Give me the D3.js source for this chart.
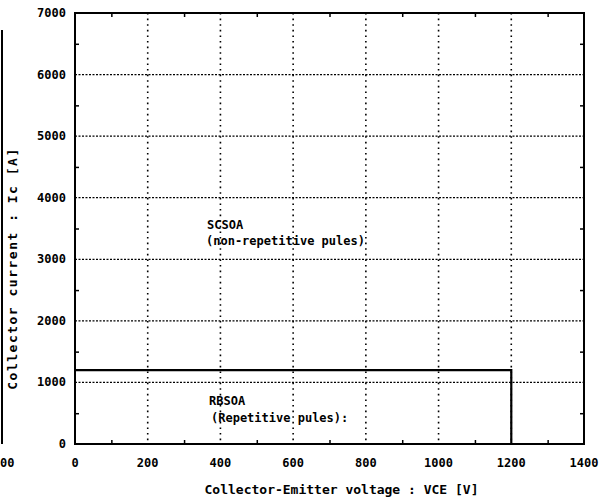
<!DOCTYPE html>
<html>
<head>
<meta charset="utf-8">
<script src="https://cdn.jsdelivr.net/npm/d3@7"></script>
<style>
  body { margin: 0; background: #fff; }
  text { font-family: "DejaVu Sans Mono", monospace; font-weight: bold; fill: #000; }
</style>
</head>
<body>
<svg width="610" height="500"></svg>
<script>
    const margin = { top: 13, right: 26, bottom: 56, left: 75 },
      width = 610 - margin.left - margin.right,
      height = 500 - margin.top - margin.bottom;

    // Axis ticks
    const xTicks = [0, 200, 400, 600, 800, 1000, 1200, 1400];
    const yTicks = [0, 1000, 2000, 3000, 4000, 5000, 6000, 7000];
    const xMinor = [100, 300, 500, 700, 900, 1100, 1300];
    const yMinor = [500, 1500, 2500, 3500, 4500, 5500, 6500];

    // RBSOA boundary (VCE [V], Ic [A])
    const rbsoaV = [0, 1200, 1200];
    const rbsoaI = [1200, 1200, 0];

    const svg = d3.select("svg")
      .append("g")
      .attr("transform", `translate(${margin.left}, ${margin.top})`);

    const xScale = d3.scaleLinear().domain([0, 1400]).range([0, width]);
    const yScale = d3.scaleLinear().domain([0, 7000]).range([height, 0]);

    // Dotted grid
    svg.append("g")
      .selectAll("line")
      .data(xTicks.slice(1, -1))
      .enter().append("line")
      .attr("x1", d => xScale(d)).attr("x2", d => xScale(d))
      .attr("y1", 0).attr("y2", height)
      .attr("stroke", "#000").attr("stroke-width", 1.6)
      .attr("stroke-dasharray", "1.6,4");
    svg.append("g")
      .selectAll("line")
      .data(yTicks.slice(1, -1))
      .enter().append("line")
      .attr("x1", 0).attr("x2", width)
      .attr("y1", d => yScale(d)).attr("y2", d => yScale(d))
      .attr("stroke", "#000").attr("stroke-width", 1.2)
      .attr("stroke-dasharray", "2,1.5");

    // Minor inward ticks
    const xAxisB = d3.axisBottom(xScale).tickValues(xMinor).tickSize(-4).tickFormat("");
    const xAxisT = d3.axisTop(xScale).tickValues(xMinor).tickSize(-4).tickFormat("");
    const yAxisL = d3.axisLeft(yScale).tickValues(yMinor).tickSize(-4).tickFormat("");
    const yAxisR = d3.axisRight(yScale).tickValues(yMinor).tickSize(-4).tickFormat("");
    [[xAxisB, `translate(0,${height})`], [xAxisT, "translate(0,0)"],
     [yAxisL, "translate(0,0)"], [yAxisR, `translate(${width},0)`]].forEach(([ax, tr]) => {
      const g = svg.append("g").attr("transform", tr).call(ax);
      g.select(".domain").remove();
      g.selectAll("line").attr("stroke", "#000").attr("stroke-width", 1.5);
    });

    // Frame
    svg.append("rect")
      .attr("width", width).attr("height", height)
      .attr("fill", "none").attr("stroke", "#000").attr("stroke-width", 2);

    // Tick labels
    svg.append("g")
      .selectAll("text")
      .data(xTicks)
      .enter().append("text")
      .attr("x", d => xScale(d))
      .attr("y", height + 23)
      .attr("text-anchor", "middle")
      .attr("font-size", 12)
      .text(d => d);
    svg.append("g")
      .selectAll("text")
      .data(yTicks)
      .enter().append("text")
      .attr("x", -9)
      .attr("y", d => yScale(d) + 4)
      .attr("text-anchor", "end")
      .attr("font-size", 12)
      .text(d => d);

    // RBSOA line
    const line = d3.line()
      .x((d, i) => xScale(rbsoaV[i]))
      .y((d, i) => yScale(rbsoaI[i]));
    svg.append("path")
      .attr("d", line(rbsoaV))
      .attr("fill", "none")
      .attr("stroke", "#000")
      .attr("stroke-width", 2.2);

    // Annotations
    svg.append("text").attr("x", 132).attr("y", 216).attr("font-size", 12).text("SCSOA");
    svg.append("text").attr("x", 131).attr("y", 232).attr("font-size", 12)
      .text("(non-repetitive pules)");
    svg.append("text").attr("x", 134).attr("y", 392).attr("font-size", 12).text("RBSOA");
    svg.append("text").attr("x", 136).attr("y", 409).attr("font-size", 12)
      .text("(Repetitive pules):");

    // Axis titles
    svg.append("text")
      .attr("x", width / 2 + 12)
      .attr("y", height + 50)
      .attr("text-anchor", "middle")
      .attr("font-size", 13)
      .text("Collector-Emitter voltage : VCE [V]");
    svg.append("text")
      .attr("transform", "rotate(-90)")
      .attr("x", -(height / 2 + 40))
      .attr("y", -58)
      .attr("text-anchor", "middle")
      .attr("font-size", 13)
      .attr("letter-spacing", 1.5)
      .text("Collector current : Ic [A]");

    // Edge of the neighbouring chart
    const root = d3.select("svg");
    root.append("line")
      .attr("x1", 2).attr("x2", 2)
      .attr("y1", 30).attr("y2", 444)
      .attr("stroke", "#000").attr("stroke-width", 2);
    root.append("text")
      .attr("x", 0).attr("y", 467)
      .attr("font-size", 12)
      .text("00");
</script>
</body>
</html>
